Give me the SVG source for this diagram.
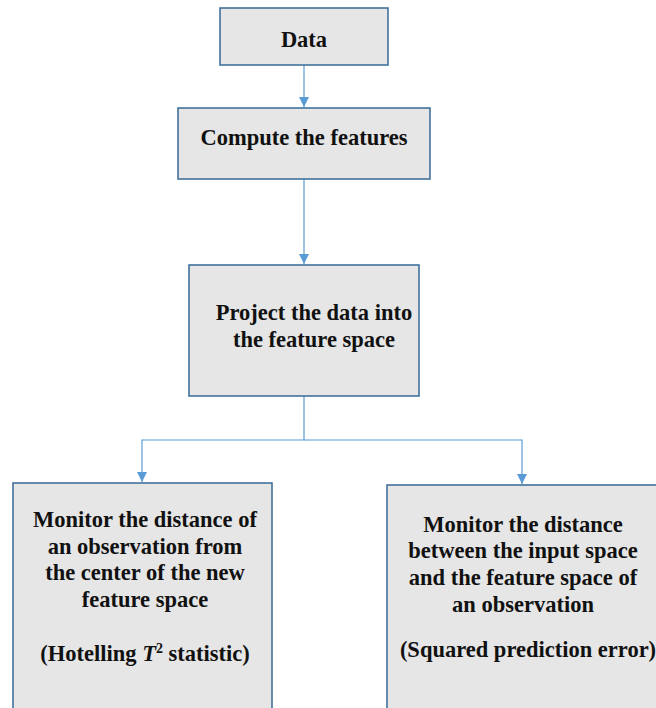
<svg xmlns="http://www.w3.org/2000/svg" width="656" height="708" viewBox="0 0 656 708">
  <style>
    .box { fill: #e6e6e6; stroke: #41719c; stroke-width: 1.6; }
    .lbl { font-family: "Liberation Serif", "Times New Roman", serif; font-weight: bold; font-size: 22.5px; fill: #111; text-anchor: middle; }
    .wire { fill: none; stroke: #5b9bd5; stroke-width: 1.2; }
  </style>
  <defs>
    <marker id="arrow" viewBox="0 0 10 10" refX="10" refY="5" markerWidth="10" markerHeight="10" markerUnits="userSpaceOnUse" orient="auto">
      <path d="M0,0 L10,5 L0,10 z" fill="#5b9bd5"/>
    </marker>
  </defs>
  <rect width="656" height="708" fill="#ffffff"/>

  <g id="connectors">
    <path class="wire" d="M304,65 V107" marker-end="url(#arrow)"/>
    <path class="wire" d="M304,179 V264" marker-end="url(#arrow)"/>
    <path class="wire" d="M304,396 V440 H142 V482" marker-end="url(#arrow)"/>
    <path class="wire" d="M304,440 H522 V484" marker-end="url(#arrow)"/>
  </g>

  <g id="data">
    <rect class="box" x="220" y="8" width="168" height="57"/>
    <text class="lbl" x="304" y="47">Data</text>
  </g>

  <g id="compute">
    <rect class="box" x="178" y="108" width="252" height="71"/>
    <text class="lbl" x="304" y="145">Compute the features</text>
  </g>

  <g id="project">
    <rect class="box" x="189" y="265" width="230" height="131"/>
    <text class="lbl" x="314" y="320">Project the data into</text>
    <text class="lbl" x="314" y="347">the feature space</text>
  </g>

  <g id="hotelling">
    <rect class="box" x="13" y="483" width="259" height="240"/>
    <text class="lbl" x="145" y="527">Monitor the distance of</text>
    <text class="lbl" x="145" y="554">an observation from</text>
    <text class="lbl" x="145" y="580">the center of the new</text>
    <text class="lbl" x="145" y="607">feature space</text>
    <text class="lbl" x="145" y="661">(Hotelling  <tspan font-style="italic">T</tspan><tspan font-size="14" dy="-8">2</tspan><tspan dy="8"> statistic)</tspan></text>
  </g>

  <g id="spe">
    <rect class="box" x="387" y="485" width="290" height="240"/>
    <text class="lbl" x="523" y="532">Monitor the distance</text>
    <text class="lbl" x="523" y="558">between the input space</text>
    <text class="lbl" x="523" y="585">and the feature space of</text>
    <text class="lbl" x="523" y="612">an observation</text>
    <text class="lbl" x="528" y="657">(Squared prediction error)</text>
  </g>
</svg>
